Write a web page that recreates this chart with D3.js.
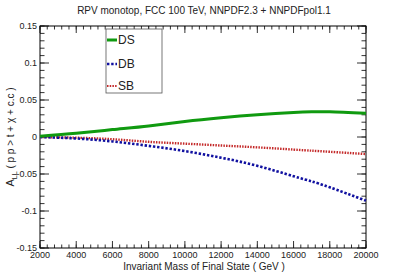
<!DOCTYPE html>
<html>
<head>
<meta charset="utf-8">
<script src="https://cdn.jsdelivr.net/npm/d3@7"></script>
<style>
  body { margin: 0; background: #fff; }
  text { font-family: "Liberation Sans", Arial, sans-serif; fill: #222; }
</style>
</head>
<body>
<div id="chart"></div>
<script>
// values
var masses = [2000, 4000, 6000, 8000, 10000, 12000, 14000, 16000, 17000, 18000, 20000];
var dsValues = [0.001, 0.005, 0.010, 0.015, 0.021, 0.026, 0.030, 0.033, 0.034, 0.034, 0.032];
var dbValues = [0, -0.002, -0.006, -0.012, -0.019, -0.028, -0.039, -0.053, -0.060, -0.068, -0.086];
var sbValues = [0, -0.001, -0.003, -0.0065, -0.009, -0.0115, -0.014, -0.017, -0.0185, -0.020, -0.023];
var xTicks = [2000, 4000, 6000, 8000, 10000, 12000, 14000, 16000, 18000, 20000];
var yTicks = [-0.15, -0.1, -0.05, 0, 0.05, 0.1, 0.15];
var yTickLabels = ["-0.15", "-0.1", "-0.05", "0", "0.05", "0.1", "0.15"];

var svgWidth = 407;
var svgHeight = 276;
var margin = { top: 26, right: 41, bottom: 28, left: 40 };
var width = svgWidth - margin.left - margin.right;
var height = svgHeight - margin.top - margin.bottom;

var svg = d3.select("#chart")
    .append("svg")
    .attr("width", svgWidth)
    .attr("height", svgHeight);

var chartGroup = svg.append("g")
    .attr("transform", `translate(${margin.left}, ${margin.top})`);

var xScale = d3.scaleLinear().domain([2000, 20000]).range([0, width]);
var yScale = d3.scaleLinear().domain([-0.15, 0.15]).range([height, 0]);

// minor ticks every 400 / 0.01
var xMinor = d3.range(2000, 20001, 400);
var yMinor = d3.range(-15, 16).map(d => d / 100);

// ticks on all four sides, pointing inward (root style)
function tickGroup(vals, len, cls) {
    chartGroup.selectAll("line." + cls + "b").data(vals).enter().append("line")
        .attr("x1", d => xScale(d)).attr("x2", d => xScale(d))
        .attr("y1", height).attr("y2", height - len)
        .attr("stroke", "#333");
    chartGroup.selectAll("line." + cls + "t").data(vals).enter().append("line")
        .attr("x1", d => xScale(d)).attr("x2", d => xScale(d))
        .attr("y1", 0).attr("y2", len)
        .attr("stroke", "#333");
}
tickGroup(xMinor, 3.5, "xm");
tickGroup(xTicks, 7, "xM");

function yTickGroup(vals, len) {
    chartGroup.append("g").selectAll("line").data(vals).enter().append("line")
        .attr("x1", 0).attr("x2", len)
        .attr("y1", d => yScale(d)).attr("y2", d => yScale(d))
        .attr("stroke", "#333");
    chartGroup.append("g").selectAll("line").data(vals).enter().append("line")
        .attr("x1", width).attr("x2", width - len)
        .attr("y1", d => yScale(d)).attr("y2", d => yScale(d))
        .attr("stroke", "#333");
}
yTickGroup(yMinor, 4.5);
yTickGroup(yTicks, 9);

// frame
chartGroup.append("rect")
    .attr("width", width).attr("height", height)
    .attr("fill", "none").attr("stroke", "#000").attr("stroke-width", 1);

// tick labels
chartGroup.selectAll("text.xl").data(xTicks).enter().append("text")
    .attr("x", d => xScale(d)).attr("y", height + 10)
    .attr("text-anchor", "middle")
    .style("font-size", "9px")
    .text(d => d);

chartGroup.selectAll("text.yl").data(yTicks).enter().append("text")
    .attr("x", -3).attr("y", d => yScale(d) + 3)
    .attr("text-anchor", "end")
    .style("font-size", "9px")
    .text((d, i) => yTickLabels[i]);

// curves
var lineGen = d3.line()
    .x(d => xScale(d[0]))
    .y(d => yScale(d[1]))
    .curve(d3.curveNatural);

function series(vals) { return masses.map((m, i) => [m, vals[i]]); }

chartGroup.append("path").datum(series(sbValues))
    .attr("d", lineGen).attr("fill", "none")
    .attr("stroke", "#c42a2a").attr("stroke-width", 2.4)
    .attr("stroke-dasharray", "1.5,1.2");

chartGroup.append("path").datum(series(dbValues))
    .attr("d", lineGen).attr("fill", "none")
    .attr("stroke", "#1010a0").attr("stroke-width", 2.6)
    .attr("stroke-dasharray", "2.4,1.8");

chartGroup.append("path").datum(series(dsValues))
    .attr("d", lineGen).attr("fill", "none")
    .attr("stroke", "#109a10").attr("stroke-width", 3);

// legend
var legend = svg.append("g").attr("transform", "translate(106, 29)");
legend.append("rect")
    .attr("width", 56).attr("height", 64)
    .attr("fill", "#fff").attr("stroke", "#555").attr("stroke-width", 0.8);

var legendItems = [
    { name: "DS", color: "#109a10", w: 3, dash: null, y: 11 },
    { name: "DB", color: "#1010a0", w: 2.6, dash: "2.4,1.8", y: 35 },
    { name: "SB", color: "#c42a2a", w: 2.2, dash: "1.5,1.2", y: 57 }
];
legendItems.forEach(function (it) {
    legend.append("line")
        .attr("x1", 1).attr("x2", 11)
        .attr("y1", it.y).attr("y2", it.y)
        .attr("stroke", it.color).attr("stroke-width", it.w)
        .attr("stroke-dasharray", it.dash);
    legend.append("text")
        .attr("x", 12).attr("y", it.y + 4)
        .style("font-size", "12px")
        .text(it.name);
});

// titles
svg.append("text")
    .attr("x", 204).attr("y", 14)
    .attr("text-anchor", "middle")
    .style("font-size", "10px")
    .text("RPV monotop, FCC 100 TeV, NNPDF2.3 + NNPDFpol1.1");

svg.append("text")
    .attr("x", 204).attr("y", 270)
    .attr("text-anchor", "middle")
    .style("font-size", "10px")
    .text("Invariant Mass of Final State ( GeV )");

var yTitle = svg.append("text")
    .attr("transform", "translate(14, 137) rotate(-90)")
    .attr("text-anchor", "middle")
    .style("font-size", "10px");
yTitle.append("tspan").style("font-size", "11px").text("A");
yTitle.append("tspan").attr("dy", 3).style("font-size", "7px").text("LL");
yTitle.append("tspan").attr("dy", -3).text(" ( p p > t + \u03c7 + c.c )");
</script>
</body>
</html>
